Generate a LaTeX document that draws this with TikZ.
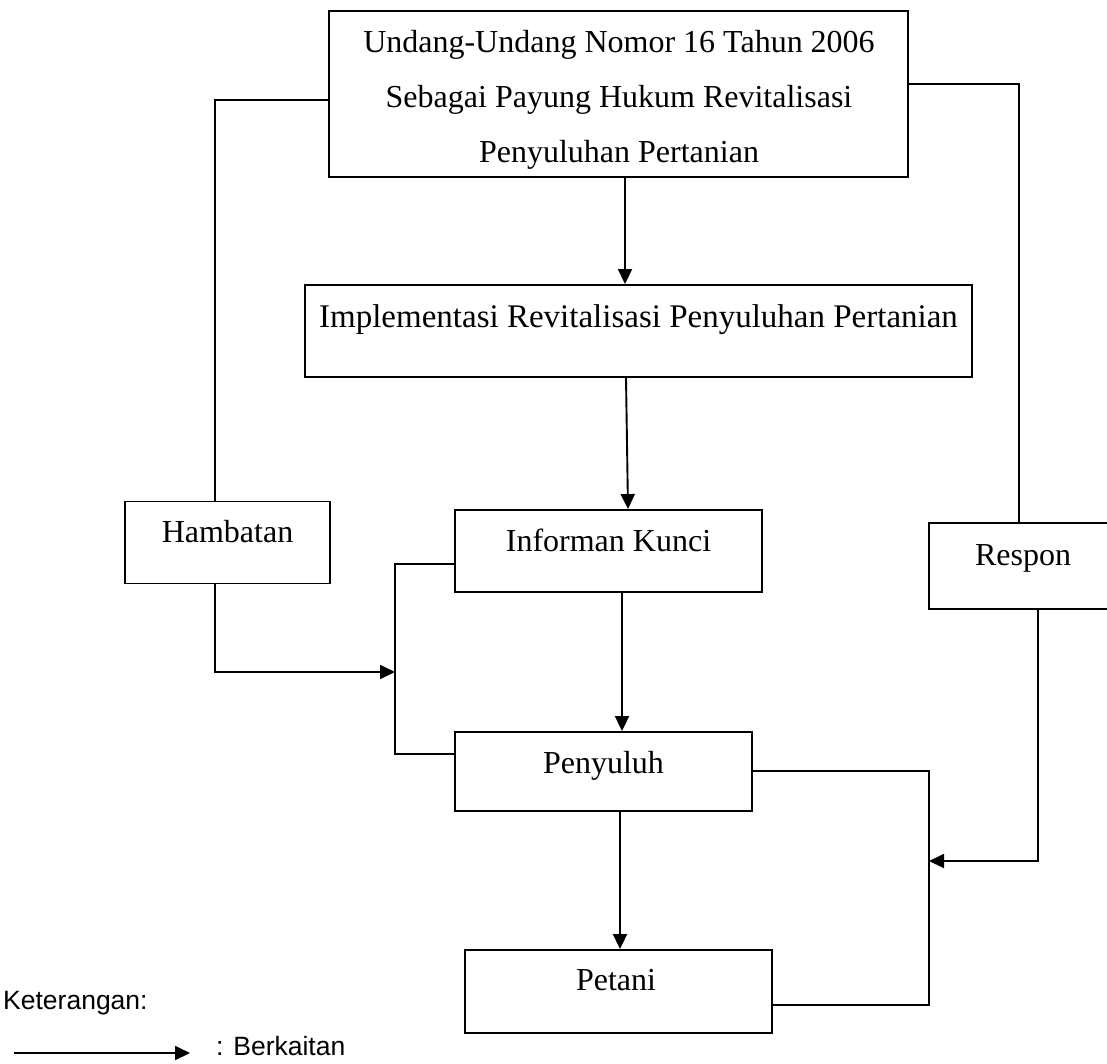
\documentclass[tikz,border=0pt]{standalone}
\usepackage{fontspec}
\setmainfont{Liberation Serif}
\newfontfamily\arialf{Liberation Sans}
\usetikzlibrary{arrows.meta}
\begin{document}
\begin{tikzpicture}[x=1pt,y=-1pt,
  box/.style={draw, line width=1.9pt, inner sep=0pt, rectangle},
  txt/.style={anchor=base, inner sep=0pt, font=\fontsize{32}{38}\selectfont},
  conn/.style={line width=1.9pt},
  arr/.style={line width=1.9pt, -{Triangle[length=15pt,width=14pt]}},
  legtxt/.style={inner sep=0pt, font=\arialf\fontsize{26.5}{31}\selectfont}]
\useasboundingbox (0,0) rectangle (1107,1063);
% boxes
\node[box, minimum width=579pt, minimum height=166pt] (uu) at (618.5,94) {};
\node[box, minimum width=667pt, minimum height=92pt] (impl) at (638.5,331) {};
\node[box, minimum width=205pt, minimum height=82pt] (hamb) at (227.5,542.5) {};
\node[box, minimum width=307pt, minimum height=82pt] (inf) at (608.5,551) {};
\node[box, minimum width=192pt, minimum height=86pt] (resp) at (1025,566) {};
\node[box, minimum width=297pt, minimum height=79pt] (peny) at (603.5,771.5) {};
\node[box, minimum width=307pt, minimum height=83pt] (pet) at (618.5,991.5) {};
% texts
\node[txt] (t1) at (619,52) {Undang-Undang Nomor 16 Tahun 2006};
\node[txt] (t2) at (619,107) {Sebagai Payung Hukum Revitalisasi};
\node[txt] (t3) at (619,162) {Penyuluhan Pertanian};
\node[txt, font=\fontsize{33}{38}\selectfont] (t4) at (638.5,327) {Implementasi Revitalisasi Penyuluhan Pertanian};
\node[txt] (t5) at (227.5,542) {Hambatan};
\node[txt] (t6) at (608.5,551) {Informan Kunci};
\node[txt] (t7) at (1023,565) {Respon};
\node[txt] (t8) at (603.5,773) {Penyuluh};
\node[txt] (t9) at (616,990) {Petani};
% coordinates
\coordinate (hj) at (395,672);
\coordinate (rj) at (929,861);
% connectors
\draw[conn] (uu.west |- 0,100) -| (hamb.north -| 215,0);
\draw[conn] (uu.east |- 0,84) -| (resp.north -| 1019,0);
\draw[arr] (uu.south -| 625,0) -- (impl.north -| 625,0);
\draw[arr] (impl.south -| 626,0) -- (inf.north -| 628,0);
\draw[arr] (hamb.south -| 215,0) |- (hj);
\draw[conn] (inf.west |- 0,564) -| (hj) |- (peny.west |- 0,754);
\draw[arr] (inf.south -| 622,0) -- (peny.north -| 622,0);
\draw[arr] (peny.south -| 620,0) -- (pet.north -| 620,0);
\draw[conn] (peny.east |- 0,771) -| (rj) |- (pet.east |- 0,1005);
\draw[arr] (resp.south -| 1038,0) |- (rj);
% legend
\node[legtxt, anchor=base west] (ket) at (3,1009) {Keterangan:};
\coordinate (la) at (14,1053);
\coordinate (lb) at (190,1053);
\draw[arr] (la) -- (lb);
\node[legtxt, anchor=base west] (berk) at (216,1055) {: Berkaitan};
\end{tikzpicture}
\end{document}
